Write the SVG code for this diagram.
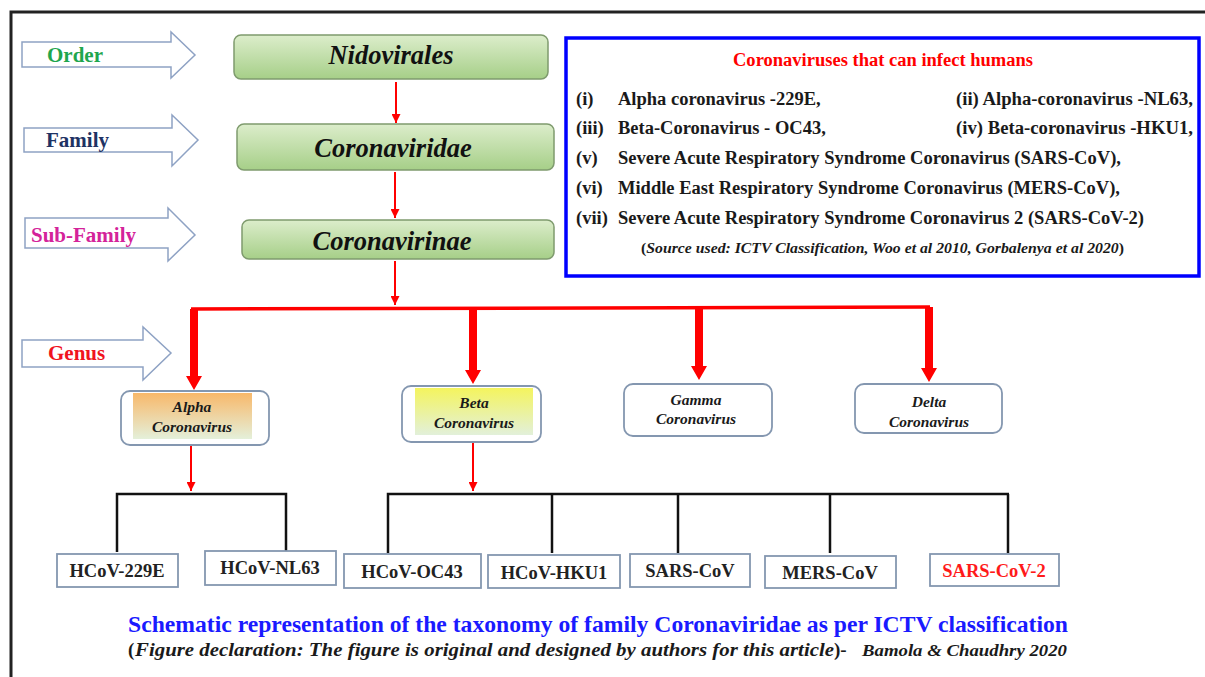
<svg xmlns="http://www.w3.org/2000/svg" width="1205" height="677" viewBox="0 0 1205 677">
<defs>
<style>
text{font-family:"Liberation Serif","Times New Roman",serif;font-weight:bold}
.lvl{stroke:#8ea2c4;stroke-width:1.5;fill:#fff}
.gbox{fill:url(#green);stroke:#7f9b6e;stroke-width:1.5}
.gtxt{font-size:26.5px;font-style:italic;fill:#111;text-anchor:middle}
.genus{fill:#fff;stroke:#8497b0;stroke-width:1.8}
.gen{font-size:15.5px;font-style:italic;fill:#1a1a1a;text-anchor:middle}
.sp{fill:#fff;stroke:#8497b0;stroke-width:1.8}
.spt{font-size:18.5px;fill:#222;text-anchor:middle}
.li{font-size:18.5px;fill:#1a1a1a}
.lv{font-size:21px}
.thin{stroke:#ff0000;stroke-width:2;fill:none}
.blk{stroke:#111;stroke-width:2.5;fill:none}
</style>
<linearGradient id="green" x1="0" y1="0" x2="0" y2="1">
<stop offset="0" stop-color="#dcedcb"/>
<stop offset="1" stop-color="#a6cf88"/>
</linearGradient>
<linearGradient id="orange" x1="0" y1="0" x2="0" y2="1">
<stop offset="0" stop-color="#f8b86a"/>
<stop offset="1" stop-color="#e4f0da"/>
</linearGradient>
<linearGradient id="yellow" x1="0" y1="0" x2="0" y2="1">
<stop offset="0" stop-color="#f4f45e"/>
<stop offset="1" stop-color="#e2f0da"/>
</linearGradient>
<marker id="ah" viewBox="0 0 10 10" refX="10" refY="5" markerWidth="4.5" markerHeight="4.5" orient="auto" markerUnits="strokeWidth">
<path d="M0,0 L10,5 L0,10 z" fill="#ff0000"/>
</marker>
</defs>

<rect x="11" y="12" width="1210" height="700" fill="none" stroke="#222" stroke-width="3"/>

<g id="level-order">
<polygon class="lvl" points="22,42 171,42 171,32 195,55 171,78 171,67 22,67"/>
<text class="lv" x="47" y="62" fill="#1fa64e">Order</text>
</g>
<g id="level-family">
<polygon class="lvl" points="24,128 172,128 172,115 198,140 172,166 172,152 24,152"/>
<text class="lv" x="46" y="147" fill="#1f3364">Family</text>
</g>
<g id="level-subfamily">
<polygon class="lvl" points="25,218 168,218 168,208 195,235 168,261 168,248 25,248"/>
<text class="lv" x="31" y="242" fill="#d4239a">Sub-Family</text>
</g>
<g id="level-genus">
<polygon class="lvl" points="22,340 143,340 143,327 171,353 143,380 143,367 22,367"/>
<text class="lv" x="48" y="360" fill="#f0141e">Genus</text>
</g>

<g id="node-nidovirales">
<rect class="gbox" x="234" y="35" width="314" height="44" rx="7"/>
<text class="gtxt" x="391" y="64">Nidovirales</text>
</g>
<g id="node-coronaviridae">
<rect class="gbox" x="237" y="124" width="317" height="46" rx="7"/>
<text class="gtxt" x="393" y="157">Coronaviridae</text>
</g>
<g id="node-coronavirinae">
<rect class="gbox" x="242" y="220" width="312" height="39" rx="7"/>
<text class="gtxt" x="392" y="250">Coronavirinae</text>
</g>

<g id="connectors">
<line class="thin" x1="396" y1="82" x2="396" y2="123" marker-end="url(#ah)"/>
<line class="thin" x1="395" y1="172" x2="395" y2="218" marker-end="url(#ah)"/>
<line class="thin" x1="395" y1="261" x2="395" y2="305" marker-end="url(#ah)"/>
<polyline points="191,309 930,307" stroke="#ff0000" stroke-width="3.5" fill="none"/>
<polygon fill="#ff0000" points="190,309 198,309 198,376 202,376 194,390 186,376 190,376"/>
<polygon fill="#ff0000" points="469,308 477,308 477,370 481,370 473,384 465,370 469,370"/>
<polygon fill="#ff0000" points="695,308 703,308 703,366 707,366 699,380 691,366 695,366"/>
<polygon fill="#ff0000" points="925,307 933,307 933,368 937,368 929,382 921,368 925,368"/>
<line class="thin" x1="191" y1="446" x2="191" y2="491" marker-end="url(#ah)"/>
<line class="thin" x1="473" y1="443" x2="473" y2="491" marker-end="url(#ah)"/>
<polyline class="blk" points="117,552 117,494 286,494 286,551"/>
<polyline class="blk" points="388,553 388,494 1009,494"/>
<line class="blk" x1="552" y1="494" x2="552" y2="553"/>
<line class="blk" x1="678" y1="494" x2="678" y2="553"/>
<line class="blk" x1="830" y1="494" x2="830" y2="553"/>
<line class="blk" x1="1008" y1="494" x2="1008" y2="553"/>
</g>

<g id="genus-alpha">
<rect class="genus" x="121" y="391" width="148" height="54" rx="9"/>
<rect x="133" y="393" width="119" height="46" fill="url(#orange)"/>
<text class="gen" x="192" y="412">Alpha</text>
<text class="gen" x="192" y="432">Coronavirus</text>
</g>
<g id="genus-beta">
<rect class="genus" x="402" y="386" width="139" height="56" rx="9"/>
<rect x="415" y="388" width="118" height="47" fill="url(#yellow)"/>
<text class="gen" x="474" y="408">Beta</text>
<text class="gen" x="474" y="428">Coronavirus</text>
</g>
<g id="genus-gamma">
<rect class="genus" x="624" y="384" width="148" height="52" rx="9"/>
<text class="gen" x="696" y="405">Gamma</text>
<text class="gen" x="696" y="424">Coronavirus</text>
</g>
<g id="genus-delta">
<rect class="genus" x="855" y="384" width="147" height="49" rx="9"/>
<text class="gen" x="929" y="407">Delta</text>
<text class="gen" x="929" y="427">Coronavirus</text>
</g>

<g id="sp-229e"><rect class="sp" x="57" y="554" width="121" height="33"/><text class="spt" x="117" y="577">HCoV-229E</text></g>
<g id="sp-nl63"><rect class="sp" x="205" y="551" width="131" height="34"/><text class="spt" x="270" y="574">HCoV-NL63</text></g>
<g id="sp-oc43"><rect class="sp" x="344" y="554" width="137" height="34"/><text class="spt" x="412" y="578">HCoV-OC43</text></g>
<g id="sp-hku1"><rect class="sp" x="488" y="555" width="132" height="33"/><text class="spt" x="554" y="579">HCoV-HKU1</text></g>
<g id="sp-sarscov"><rect class="sp" x="630" y="554" width="120" height="33"/><text class="spt" x="690" y="577">SARS-CoV</text></g>
<g id="sp-merscov"><rect class="sp" x="765" y="556" width="131" height="32"/><text class="spt" x="830" y="579">MERS-CoV</text></g>
<g id="sp-sarscov2"><rect class="sp" x="930" y="554" width="129" height="32"/><text class="spt" x="994" y="577" style="fill:#ff1a1a">SARS-CoV-2</text></g>

<g id="infobox">
<rect x="566" y="38" width="633" height="238" fill="#fff" stroke="#0000ff" stroke-width="3.5"/>
<text x="733" y="66" font-size="18.5" fill="#ff0000" textLength="300" lengthAdjust="spacingAndGlyphs">Coronaviruses that can infect humans</text>
<text class="li" x="576" y="105">(i)</text>
<text class="li" x="618" y="105">Alpha coronavirus -229E,</text>
<text class="li" x="956" y="105" textLength="237" lengthAdjust="spacingAndGlyphs">(ii) Alpha-coronavirus -NL63,</text>
<text class="li" x="576" y="134">(iii)</text>
<text class="li" x="618" y="134">Beta-Coronavirus - OC43,</text>
<text class="li" x="956" y="134" textLength="237" lengthAdjust="spacingAndGlyphs">(iv) Beta-coronavirus -HKU1,</text>
<text class="li" x="576" y="164">(v)</text>
<text class="li" x="618" y="164" textLength="503" lengthAdjust="spacingAndGlyphs">Severe Acute Respiratory Syndrome Coronavirus (SARS-CoV),</text>
<text class="li" x="576" y="194">(vi)</text>
<text class="li" x="618" y="194" textLength="502" lengthAdjust="spacingAndGlyphs">Middle East Respiratory Syndrome Coronavirus (MERS-CoV),</text>
<text class="li" x="576" y="224">(vii)</text>
<text class="li" x="618" y="224" textLength="526" lengthAdjust="spacingAndGlyphs">Severe Acute Respiratory Syndrome Coronavirus 2 (SARS-CoV-2)</text>
<text x="641" y="253" font-size="15" fill="#1a1a1a" textLength="483" lengthAdjust="spacingAndGlyphs">(<tspan font-style="italic">Source used: ICTV Classification,  Woo et al 2010, Gorbalenya et al 2020</tspan>)</text>
</g>

<g id="caption">
<text x="128" y="632" font-size="22.5" fill="#1a1aff" textLength="940" lengthAdjust="spacingAndGlyphs">Schematic representation of the taxonomy of family Coronaviridae as per ICTV classification</text>
<text x="128" y="656" font-size="19" fill="#1a1a1a">(</text>
<text x="135" y="656" font-size="19" font-style="italic" fill="#1a1a1a" textLength="699" lengthAdjust="spacingAndGlyphs">Figure declaration: The figure is original and designed by authors for this article</text>
<text x="834" y="656" font-size="19" fill="#1a1a1a">)-</text>
<text x="862" y="656" font-size="17" font-style="italic" fill="#1a1a1a" textLength="205" lengthAdjust="spacingAndGlyphs">Bamola &amp; Chaudhry 2020</text>
</g>
</svg>
